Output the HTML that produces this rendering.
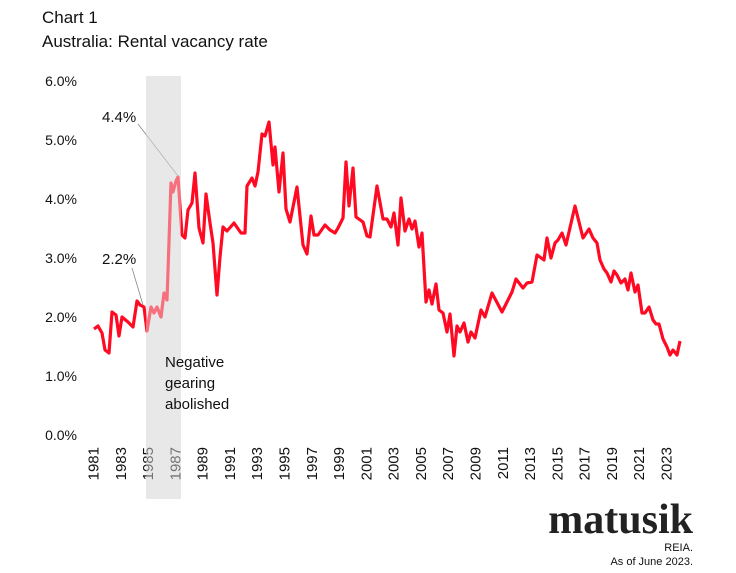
<!DOCTYPE html>
<html><head><meta charset="utf-8"><style>
body{margin:0;background:#fff;}
svg{display:block;font-family:"Liberation Sans",sans-serif;}
</style></head><body>
<svg width="736" height="573" viewBox="0 0 736 573">
<text x="42" y="23" font-size="17" fill="#111">Chart 1</text>
<text x="42" y="47" font-size="17" fill="#111">Australia:  Rental vacancy rate</text>
<rect x="146" y="76" width="35" height="423" fill="#e6e6e6"/>
<g font-size="14" fill="#111" text-anchor="end">
<text x="77" y="86">6.0%</text><text x="77" y="145">5.0%</text><text x="77" y="204">4.0%</text>
<text x="77" y="263">3.0%</text><text x="77" y="322">2.0%</text><text x="77" y="381">1.0%</text>
<text x="77" y="440">0.0%</text>
</g>
<polyline fill="none" stroke="#ff0a22" stroke-width="3.2" stroke-linejoin="round" points="94,329 98,326 102,333 105,350 109,353 112,312 116,315 119,336 122,317 128,322 133,327 137,301 140,305 144,307 147,331 151,307 154,313 157,307 161,317 164,293 167,300 171,183 173,192 176,181 178,177 182,235 185,238 188,210 192,203 195,173 199,228 203,243 206,194 210,223 213,243 217,295 220,257 223,227 227,231 234,223 241,233 245,233 247,186 252,178 255,186 258,172 262,134 265,136 269,122 273,165 275,147 279,192 283,153 286,209 290,222 297,187 303,245 307,254 311,216 314,235 318,235 325,225 330,230 335,233 338,228 343,218 346,162 349,206 353,168 356,217 363,222 367,236 370,237 377,186 383,219 387,219 391,227 394,213 398,245 401,198 405,231 409,219 412,229 415,221 419,247 422,233 426,302 429,290 432,304 436,284 439,310 443,313 447,332 450,314 454,356 457,326 460,332 464,323 468,342 471,332 475,338 481,310 485,317 492,293 502,312 512,292 516,279 523,288 527,283 532,282 537,255 544,260 547,238 551,258 555,243 558,240 562,233 566,245 575,206 583,238 589,229 593,238 597,243 600,260 604,269 607,273 611,282 614,271 617,275 621,283 625,279 628,290 631,273 635,292 638,285 642,313 645,313 649,307 653,320 656,324 659,324 663,339 667,347 670,355 673,350 677,355 680,341"/>
<line x1="138" y1="124" x2="178" y2="176" stroke="#888" stroke-width="0.8"/>
<line x1="132" y1="268" x2="143" y2="305" stroke="#888" stroke-width="0.8"/>
<text x="102" y="122" font-size="15" fill="#111">4.4%</text>
<text x="102" y="264" font-size="15" fill="#111">2.2%</text>
<text x="693" y="533" font-size="42" font-weight="bold" font-family="Liberation Serif,serif" fill="#222" text-anchor="end">matusik</text>
<text x="693" y="551" font-size="11" fill="#111" text-anchor="end">REIA.</text>
<text x="693" y="565" font-size="11" fill="#111" text-anchor="end">As of June 2023.</text>
<g font-size="15" fill="#111" text-anchor="end">
<text transform="translate(98.5,447) rotate(-90)">1981</text>
<text transform="translate(125.8,447) rotate(-90)">1983</text>
<text transform="translate(153.1,447) rotate(-90)">1985</text>
<text transform="translate(180.4,447) rotate(-90)">1987</text>
<text transform="translate(207.6,447) rotate(-90)">1989</text>
<text transform="translate(234.9,447) rotate(-90)">1991</text>
<text transform="translate(262.2,447) rotate(-90)">1993</text>
<text transform="translate(289.5,447) rotate(-90)">1995</text>
<text transform="translate(316.8,447) rotate(-90)">1997</text>
<text transform="translate(344.1,447) rotate(-90)">1999</text>
<text transform="translate(371.4,447) rotate(-90)">2001</text>
<text transform="translate(398.6,447) rotate(-90)">2003</text>
<text transform="translate(425.9,447) rotate(-90)">2005</text>
<text transform="translate(453.2,447) rotate(-90)">2007</text>
<text transform="translate(480.5,447) rotate(-90)">2009</text>
<text transform="translate(507.8,447) rotate(-90)">2011</text>
<text transform="translate(535.1,447) rotate(-90)">2013</text>
<text transform="translate(562.4,447) rotate(-90)">2015</text>
<text transform="translate(589.6,447) rotate(-90)">2017</text>
<text transform="translate(616.9,447) rotate(-90)">2019</text>
<text transform="translate(644.2,447) rotate(-90)">2021</text>
<text transform="translate(671.5,447) rotate(-90)">2023</text>
</g>
<rect x="146" y="76" width="35" height="423" fill="rgba(235,235,235,0.45)"/>
<g font-size="15" fill="#111"><text x="165" y="367">Negative</text><text x="165" y="388">gearing</text><text x="165" y="409">abolished</text></g>
</svg>
</body></html>
